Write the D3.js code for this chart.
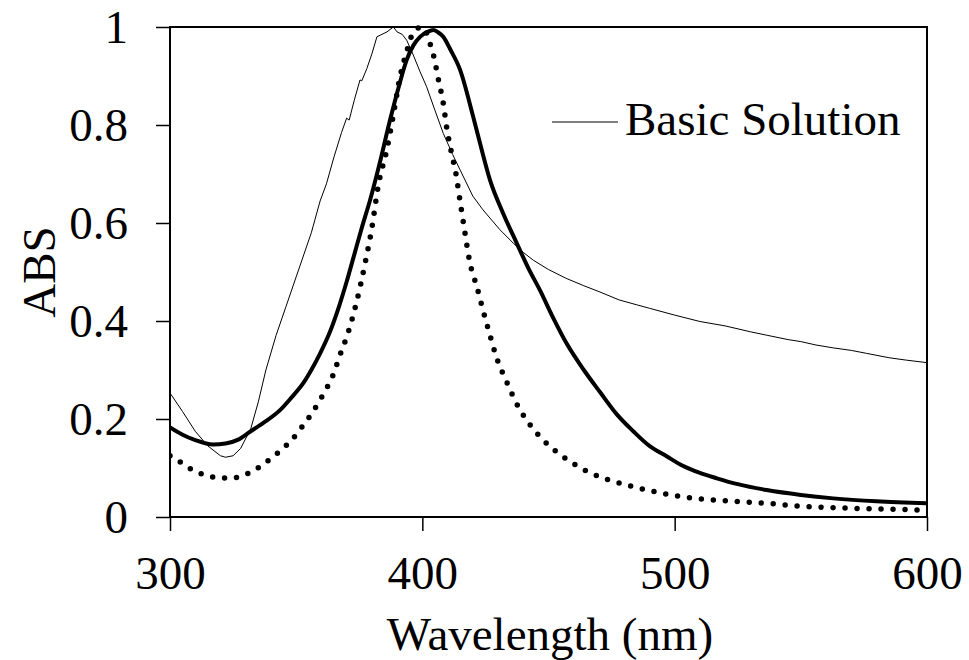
<!DOCTYPE html>
<html lang="en">
<head>
<meta charset="utf-8">
<title>ABS spectrum</title>
<script src="https://cdn.jsdelivr.net/npm/d3@7"></script>
<style>
  body { margin: 0; background: #fff; }
</style>
</head>
<body>
<div id="chart"></div>
<script>
// basic solution (thin line)
var basicNm  = [300,305,310,315,320,322,325,328,332,335,338,342,346,350,353,356,359.5,362,365,368,370,371,373,375.3,376,378,380,382,384,386,388.5,390,392,393.8,396.4,399,401.7,405,408.3,412,415,420,424,430.8,436,440,444,450,457,464,470,478,485,490,500,510,520,530,536.5,545,550,556,563,570,576,585,592,600]
var basicAbs = [.253,.215,.175,.145,.125,.122,.125,.14,.18,.235,.30,.37,.43,.49,.535,.58,.645,.68,.735,.785,.814,.81,.85,.892,.89,.915,.945,.98,.985,.99,1.0,.99,.985,.973,.943,.91,.878,.83,.783,.74,.708,.655,.627,.586,.559,.54,.524,.505,.487,.472,.46,.443,.433,.426,.412,.399,.39,.378,.371,.362,.358,.351,.345,.34,.334,.325,.32,.315]

// thick solid line
var solidNm  = [300,305,310,317,322,327,331.7,337,343.6,348,352.8,356,359.5,363.4,367,370,373,376,379.3,383,387.2,390.5,393.8,396.5,399.1,402,404.4,406,408.3,411,415,420,423.5,426.8,432,437.4,442,446.6,452,457.2,464,470.4,477,483.6,490,496.8,503,510,516.7,525,536.5,550,562.9,580,600]
var solidAbs = [.183,.168,.157,.148,.150,.158,.174,.192,.218,.243,.273,.30,.334,.378,.43,.48,.535,.59,.647,.72,.81,.875,.933,.963,.98,.99,.994,.99,.98,.955,.912,.82,.75,.688,.62,.559,.508,.463,.405,.354,.30,.255,.21,.175,.145,.124,.105,.09,.079,.067,.055,.045,.038,.032,.028]

// dotted line
var dotNm  = [300,302,306,310.6,315,319.8,324.4,329,333.7,337,341,344.5,348.2,351,354.2,357,359.5,362,364.1,367.4,370.7,374,377,380,382.6,385.9,388.5,391.2,393.8,396,398,400,401.5,403,404.4,406.4,408.3,409.7,411.6,413.6,414.3,416.3,418.9,421.6,424.2,426.8,429.5,433.4,437.4,442.7,449.3,457.2,465.8,475,484.3,493.5,503.4,520,536.5,550,569.5,585,600]
var dotAbs = [.125,.12,.105,.092,.084,.080,.079,.085,.096,.108,.123,.139,.157,.175,.197,.218,.239,.262,.283,.331,.378,.44,.51,.59,.678,.749,.82,.899,.95,.985,.997,1.0,.99,.967,.943,.892,.844,.793,.742,.692,.667,.6,.518,.47,.419,.371,.324,.276,.231,.188,.15,.118,.092,.074,.061,.05,.041,.033,.028,.022,.018,.016,.014]

var xTicks = [300,400,500,600]
var yTicks = [0,0.2,0.4,0.6,0.8,1]
var legendLabel = "Basic Solution"

var serif = "'Liberation Serif', 'Times New Roman', Times, serif"
var fs = 47

var svg = d3.select("#chart")
            .append("svg")
            .attr("width",969)
            .attr("height",660)
            .style("font-family", serif)

var x = d3.scaleLinear().domain([300,600]).range([170,927])
var y = d3.scaleLinear().domain([0,1]).range([517,27])

function pts(nm, v){
    return nm.map(function(d,i){ return [d, v[i]] })
}

var line = d3.line()
    .x(function(d){ return x(d[0]) })
    .y(function(d){ return y(d[1]) })

var smooth = d3.line()
    .x(function(d){ return x(d[0]) })
    .y(function(d){ return y(d[1]) })
    .curve(d3.curveMonotoneX)

svg.append("clipPath").attr("id","clip")
   .append("rect").attr("x",170).attr("y",20).attr("width",759).attr("height",500)

var g = svg.append("g").attr("clip-path","url(#clip)")

g.append("path")
  .attr("d", smooth(pts(dotNm, dotAbs)))
  .attr("fill","none")
  .attr("stroke","#000")
  .attr("stroke-width",5.5)
  .attr("stroke-linecap","round")
  .attr("stroke-dasharray","0 12")

g.append("path")
  .attr("d", smooth(pts(solidNm, solidAbs)))
  .attr("fill","none")
  .attr("stroke","#000")
  .attr("stroke-width",4)

g.append("path")
  .attr("d", line(pts(basicNm, basicAbs)))
  .attr("fill","none")
  .attr("stroke","#000")
  .attr("stroke-width",1)

// frame
svg.append("rect")
  .attr("x",x(300)).attr("y",y(1))
  .attr("width",x(600)-x(300)).attr("height",y(0)-y(1))
  .attr("fill","none").attr("stroke","#000").attr("stroke-width",2)

// axes
var yAxis = svg.append("g")
  .attr("transform","translate(" + x(300) + ",0)")
  .call(d3.axisLeft(y).tickValues(yTicks).tickSize(14).tickPadding(28)
        .tickFormat(function(d){ return d3.format("")(d) }))
yAxis.attr("font-family", serif).attr("font-size",fs)
yAxis.select(".domain").remove()
yAxis.selectAll("line").attr("stroke-width",1.5)

var xAxis = svg.append("g")
  .attr("transform","translate(0," + y(0) + ")")
  .call(d3.axisBottom(x).tickValues(xTicks).tickSize(14).tickPadding(25))
xAxis.attr("font-family", serif).attr("font-size",fs)
xAxis.select(".domain").remove()
xAxis.selectAll("line").attr("stroke-width",1.5)

svg.append("text")
  .attr("x",550).attr("y",650)
  .attr("text-anchor","middle")
  .attr("font-family", serif)
  .attr("font-size",fs)
  .text("Wavelength (nm)")

svg.append("text")
  .attr("transform","translate(55,272) rotate(-90)")
  .attr("text-anchor","middle")
  .attr("font-family", serif)
  .attr("font-size",fs)
  .text("ABS")

// legend
svg.append("line")
  .attr("x1",552).attr("x2",618).attr("y1",122).attr("y2",122)
  .attr("stroke","#000").attr("stroke-width",1)
svg.append("text")
  .attr("x",625).attr("y",135)
  .attr("font-family", serif)
  .attr("font-size",fs)
  .text(legendLabel)
</script>
</body>
</html>
